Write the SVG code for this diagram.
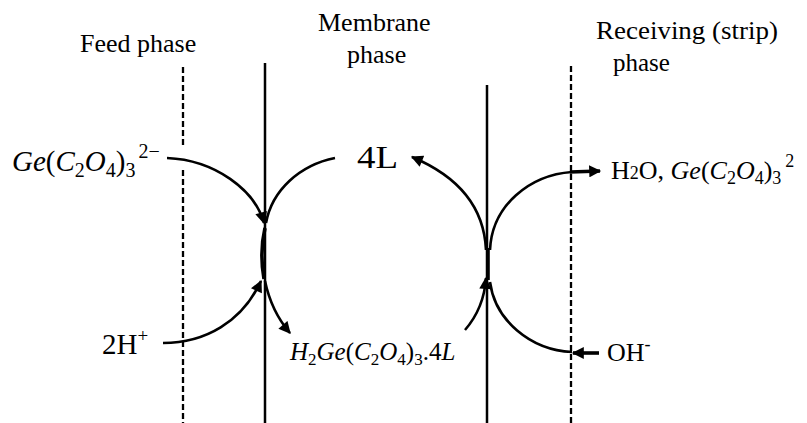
<svg xmlns="http://www.w3.org/2000/svg" width="807" height="423" viewBox="0 0 807 423">
<style>
text{font-family:"Liberation Serif","Times New Roman",serif;fill:#000}
.i{font-style:italic}
.wall{stroke:#000;stroke-width:2.5;fill:none}
.dash{stroke:#000;stroke-width:2.3;fill:none;stroke-dasharray:6 3}
.c{stroke:#000;stroke-width:2.6;fill:none}
.thick{stroke:#000;stroke-width:3.6;fill:none}
</style>
<defs>
<marker id="ah" viewBox="0 0 10 10" refX="9" refY="5" markerWidth="13" markerHeight="12" markerUnits="userSpaceOnUse" orient="auto">
<path d="M0,0 L10,5 L0,10 Z" fill="#000"/>
</marker>
</defs>
<rect width="807" height="423" fill="#fff"/>

<g id="walls">
<path class="dash" d="M183,67 V148"/>
<path class="dash" d="M183,170 V423"/>
<path class="wall" d="M265,63 V423"/>
<path class="wall" d="M487,85 V423"/>
<path class="dash" d="M571,66 V423"/>
</g>

<g id="labels">
<g id="feed"><text x="80" y="52" font-size="26">Feed phase</text></g>
<g id="membrane"><text x="318" y="31" font-size="26">Membrane</text><text x="347" y="63" font-size="26">phase</text></g>
<g id="receiving"><text x="596" y="39" font-size="25" textLength="182" lengthAdjust="spacingAndGlyphs">Receiving (strip)</text><text x="613" y="71" font-size="25">phase</text></g>
</g>

<g id="ge-feed"><text x="12" y="171" font-size="29"><tspan class="i">Ge</tspan>(<tspan class="i">C</tspan><tspan font-size="20" dy="6">2</tspan><tspan class="i" dy="-6">O</tspan><tspan font-size="20" dy="6">4</tspan><tspan dy="-6">)</tspan><tspan font-size="20" dy="6">3</tspan><tspan font-size="20" dx="3" dy="-19">2−</tspan></text></g>

<g id="h-feed"><text x="102" y="354" font-size="29">2H<tspan font-size="19" dy="-12">+</tspan></text></g>

<g id="carrier-4l"><text x="357" y="168" font-size="31" textLength="41" lengthAdjust="spacingAndGlyphs">4L</text></g>

<g id="complex"><text x="290" y="360" font-size="25"><tspan class="i">H</tspan><tspan font-size="17" dy="5">2</tspan><tspan class="i" dy="-5">Ge</tspan>(<tspan class="i">C</tspan><tspan font-size="17" dy="5">2</tspan><tspan class="i" dy="-5">O</tspan><tspan font-size="17" dy="5">4</tspan><tspan dy="-5">)</tspan><tspan font-size="17" dy="5">3</tspan><tspan dy="-5">.4</tspan><tspan class="i">L</tspan></text></g>

<g id="strip-product"><text x="611" y="179" font-size="26">H<tspan font-size="18">2</tspan>O, <tspan class="i">Ge</tspan>(<tspan class="i">C</tspan><tspan font-size="18" dy="5">2</tspan><tspan class="i" dy="-5">O</tspan><tspan font-size="18" dy="5">4</tspan><tspan dy="-5">)</tspan><tspan font-size="18" dy="5">3</tspan><tspan font-size="18" dx="4" dy="-17">2</tspan></text></g>

<g id="oh"><text x="607" y="361" font-size="26">OH<tspan font-size="18" dy="-11">-</tspan></text></g>

<g id="connectors">
<path class="c" d="M167,158 C215,160 255,190 264,223" marker-end="url(#ah)"/>
<path class="c" d="M335,158 C300,165 272,190 266,223"/>
<path class="thick" d="M265,228 C261,245 261,262 264,279"/>
<path class="c" d="M163,343 C205,343 242,322 261,281" marker-end="url(#ah)"/>
<path class="c" d="M265,281 C269,300 277,318 290,333" marker-end="url(#ah)"/>

<path class="c" d="M486,250 C484,205 455,175 412,157" marker-end="url(#ah)"/>
<path class="c" d="M490,250 C492,205 530,175 572,172"/>
<path class="thick" d="M570,172 L600,171" marker-end="url(#ah)"/>
<path class="thick" d="M488,248 V280"/>
<path class="c" d="M465,330 Q484,308 486,278" marker-end="url(#ah)"/>
<path class="c" d="M490,282 C495,320 530,350 572,352"/>
<path class="thick" d="M599,353 L573,353" marker-end="url(#ah)"/>
</g>
</svg>
